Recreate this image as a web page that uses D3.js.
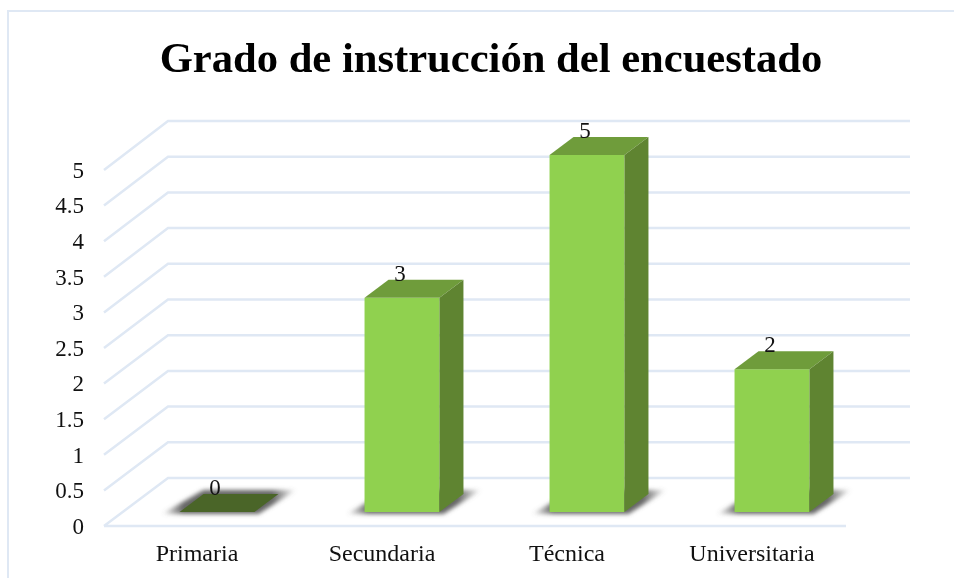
<!DOCTYPE html>
<html lang="es">
<head>
<meta charset="utf-8">
<title>Grado de instrucción del encuestado</title>
<script src="https://cdn.jsdelivr.net/npm/d3@7"></script>
<style>
  html, body { margin: 0; background: #fff; }
  svg { display: block; filter: blur(0.4px); }
  text { font-family: "Liberation Serif", serif; fill: #111; }
</style>
</head>
<body>
<svg id="chart" width="954" height="578"></svg>
<script>
const categories = ['Primaria', 'Secundaria', 'Técnica', 'Universitaria']
const values = [0, 3, 5, 2]
const tickValues = [0, 0.5, 1, 1.5, 2, 2.5, 3, 3.5, 4, 4.5, 5]
const titleText = 'Grado de instrucción del encuestado'

const svg = d3.select('#chart')
const gridColor = '#dfe8f4'

// the fake 3D box: front edge of the floor, back wall, and the bars in between
const floorLeft = 104
const floorRight = 846
const wallDx = 64
const barDx = 24
const barDy = 18

const yFront = d3.scaleLinear().domain([0, 5]).range([526, 170])
const yWall = d3.scaleLinear().domain([0, 5]).range([478, 121])
const yBar = d3.scaleLinear().domain([0, 5]).range([512, 155])
const xBar = d3.scaleBand()
  .domain(categories)
  .range([124.5, 864.5])
  .paddingInner(0.595)
  .paddingOuter(0.2975)

const rows = categories.map((name, i) => ({ name, value: values[i] }))

/**
 * Draws the outer chart frame, only visible at the top and on the left.
 */
function drawFrame () {
  svg.append('path')
    .attr('d', 'M8,578V11H954')
    .attr('fill', 'none')
    .attr('stroke', gridColor)
    .attr('stroke-width', 2)
}

/**
 * Draws the title of the chart.
 */
function drawTitle () {
  svg.append('text')
    .attr('x', 491)
    .attr('y', 72)
    .attr('text-anchor', 'middle')
    .attr('font-size', 42.6)
    .attr('font-weight', 'bold')
    .style('fill', '#000')
    .text(titleText)
}

/**
 * Draws the gridlines on the floor side and along the back wall.
 */
function drawGrid () {
  const g = svg.append('g')
    .attr('fill', 'none')
    .attr('stroke', gridColor)
    .attr('stroke-width', 2.5)

  g.selectAll('path')
    .data(tickValues)
    .enter()
    .append('path')
    .attr('d', (d) => {
      const start = `M${floorLeft},${yFront(d)}L${floorLeft + wallDx},${yWall(d)}H${floorRight + wallDx}`
      return d === 0 ? start + `M${floorLeft},${yFront(d)}H${floorRight}` : start
    })
}

/**
 * Draws the value axis labels.
 */
function drawAxis () {
  const axis = d3.axisLeft(yFront)
    .tickValues(tickValues)
    .tickFormat((d) => d)
    .tickSize(0)
    .tickPadding(0)

  const g = svg.append('g')
    .attr('transform', 'translate(84,0)')
    .call(axis)

  g.select('.domain').remove()
  g.selectAll('text')
    .attr('font-size', 23)
    .attr('font-family', null)
}

/**
 * Draws the category labels under the floor.
 */
function drawCategories () {
  svg.selectAll('.category')
    .data(rows)
    .enter()
    .append('text')
    .attr('class', 'category')
    .attr('x', (d) => xBar(d.name) + xBar.bandwidth() / 2 - 20)
    .attr('y', 561)
    .attr('text-anchor', 'middle')
    .attr('font-size', 24)
    .text((d) => d.name)
}

/**
 * Draws the soft shadows that fall on the floor behind each bar.
 */
function drawShadows () {
  const defs = svg.append('defs')

  defs.append('filter')
    .attr('id', 'soft')
    .attr('x', '-30%')
    .attr('y', '-50%')
    .attr('width', '160%')
    .attr('height', '200%')
    .append('feGaussianBlur')
    .attr('stdDeviation', 2)

  // the shadow fades out towards both ends
  const fade = defs.append('linearGradient').attr('id', 'fade')
  fade.append('stop').attr('offset', '0%').attr('stop-color', '#666').attr('stop-opacity', 0)
  fade.append('stop').attr('offset', '16%').attr('stop-color', '#666')
  fade.append('stop').attr('offset', '82%').attr('stop-color', '#666')
  fade.append('stop').attr('offset', '100%').attr('stop-color', '#666').attr('stop-opacity', 0)

  svg.selectAll('.shadow')
    .data(rows)
    .enter()
    .append('polygon')
    .attr('class', 'shadow')
    .attr('filter', 'url(#soft)')
    .attr('fill', 'url(#fade)')
    .attr('points', (d) => {
      const x0 = xBar(d.name)
      const x1 = x0 + xBar.bandwidth()
      const y = yBar(0)
      return [
        [x0 - 18, y + 2],
        [x1 + 4, y + 2],
        [x1 + barDx + 18, y - barDy - 4],
        [x0 + barDx, y - barDy - 4]
      ].join(' ')
    })
}

/**
 * Draws the bars as three faces: front, top and right side.
 */
function drawBars () {
  const bars = svg.selectAll('.bar')
    .data(rows)
    .enter()
    .append('g')
    .attr('class', 'bar')

  bars.append('rect')
    .attr('x', (d) => xBar(d.name))
    .attr('y', (d) => yBar(d.value))
    .attr('width', xBar.bandwidth())
    .attr('height', (d) => yBar(0) - yBar(d.value))
    .attr('fill', '#90d14f')

  bars.append('polygon')
    .attr('fill', (d) => (d.value === 0 ? '#4a6528' : '#6f9c3b'))
    .attr('points', (d) => {
      const x0 = xBar(d.name)
      const x1 = x0 + xBar.bandwidth()
      const y = yBar(d.value)
      return [[x0, y], [x1, y], [x1 + barDx, y - barDy], [x0 + barDx, y - barDy]].join(' ')
    })

  bars.append('polygon')
    .attr('fill', '#5f8431')
    .attr('points', (d) => {
      const x1 = xBar(d.name) + xBar.bandwidth()
      const y = yBar(d.value)
      const base = yBar(0)
      return [[x1, y], [x1 + barDx, y - barDy], [x1 + barDx, base - barDy], [x1, base]].join(' ')
    })
}

/**
 * Draws the value label above each bar.
 */
function drawValueLabels () {
  svg.selectAll('.value')
    .data(rows)
    .enter()
    .append('text')
    .attr('class', 'value')
    .attr('x', (d) => xBar(d.name) + xBar.bandwidth() / 2 - 2)
    .attr('y', (d) => yBar(d.value) - 17)
    .attr('text-anchor', 'middle')
    .attr('font-size', 23)
    .text((d) => d.value)
}

drawFrame()
drawTitle()
drawGrid()
drawAxis()
drawShadows()
drawBars()
drawCategories()
drawValueLabels()
</script>
</body>
</html>
